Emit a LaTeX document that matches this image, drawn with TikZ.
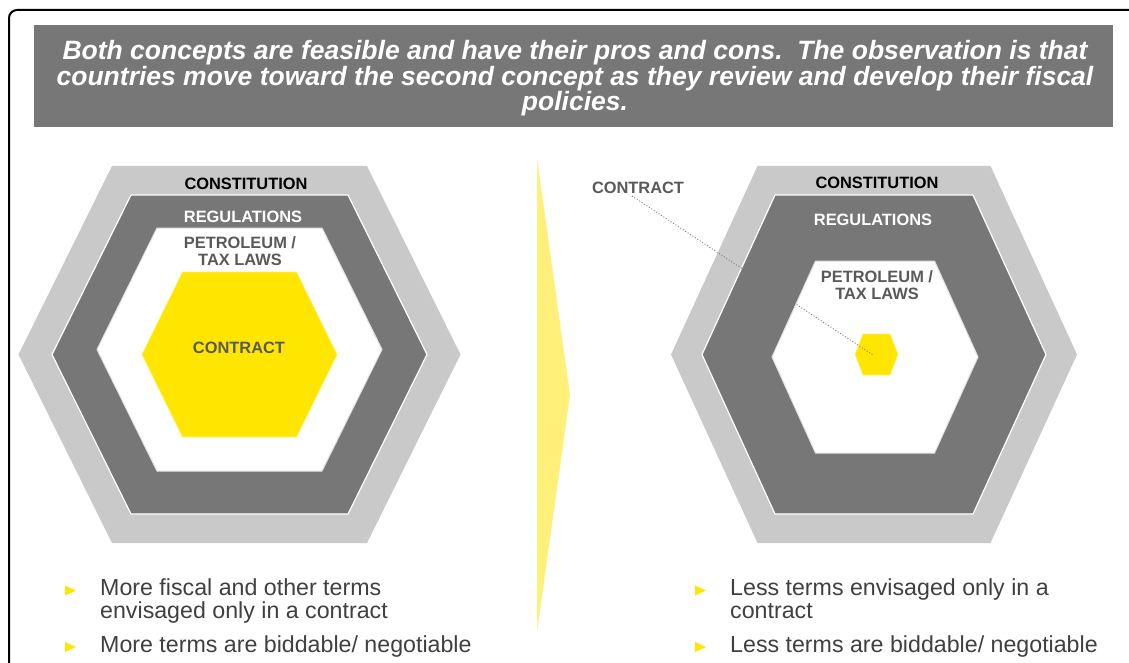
\documentclass[tikz,border=0pt]{standalone}
\usepackage{fontspec}
\setmainfont{Liberation Sans}
\definecolor{outerg}{HTML}{C9C9C9}
\definecolor{darkg}{HTML}{777777}
\definecolor{hdrg}{HTML}{777777}
\definecolor{ey}{HTML}{FFE600}
\definecolor{arrowy}{HTML}{FFF07A}
\definecolor{lblg}{HTML}{595959}
\definecolor{bodyg}{HTML}{404040}
\tikzset{
  hexlabel/.style={font=\fontsize{16.4}{17}\selectfont\bfseries, inner sep=0pt},
  hdrline/.style={font=\fontsize{26.5}{26}\selectfont\bfseries\itshape, text=white, anchor=base, inner sep=0pt},
  bodyline/.style={font=\fontsize{23.2}{23}\selectfont, text=bodyg, anchor=base west, inner sep=0pt},
  bullettri/.style={fill=ey, draw=none},
  ringout/.style={fill=outerg, draw=none},
  ringdark/.style={fill=darkg, draw=white, line width=1.2pt},
  corewhite/.style={fill=white, draw=black!12, line width=1pt},
  coreyellow/.style={fill=ey, draw=ey!60!white, line width=0.6pt},
}
% hexagon: centre (#1,#2), half top edge #3, half width #4, half height #5
\newcommand{\hexagonpath}[5]{(#1-#3,#2-#5) -- (#1+#3,#2-#5) -- (#1+#4,#2) -- (#1+#3,#2+#5) -- (#1-#3,#2+#5) -- (#1-#4,#2) -- cycle}
\begin{document}
\begin{tikzpicture}[x=1pt,y=-1pt]
\useasboundingbox (0,0) rectangle (1129,663);
\clip (0,0) rectangle (1129,663);
\fill[white] (0,0) rectangle (1129,663);

% outer frame
\draw[line width=2pt, rounded corners=8pt] (9,690) -- (9,10) -- (1150,10);

% headline banner
\fill[hdrg] (34,25) rectangle (1113,127);
\node[hdrline] (h1) at (575,59.5) {Both concepts are feasible and have their pros and cons.\ \ The observation is that};
\node[hdrline] (h2) at (575,85.5) {countries move toward the second concept as they review and develop their fiscal};
\node[hdrline] (h3) at (575,111) {policies.};

% first concept
\fill[ringout] \hexagonpath{239.5}{354.5}{127.5}{221}{188.5};
\filldraw[ringdark] \hexagonpath{239.5}{354.5}{108.5}{187.5}{159.5};
\filldraw[corewhite] \hexagonpath{239.5}{349.5}{82.5}{142.5}{121.5};
\filldraw[coreyellow] \hexagonpath{239.5}{354.5}{57}{97.5}{82.5};
\node[hexlabel, text=black] (lcon) at (246,184) {CONSTITUTION};
\node[hexlabel, text=white] (lreg) at (243,217) {REGULATIONS};
\node[hexlabel, text=lblg] (lpet) at (240,243) {PETROLEUM /};
\node[hexlabel, text=lblg] (ltax) at (240,260) {TAX LAWS};
\node[hexlabel, text=lblg] (lctr) at (239,348) {CONTRACT};

% transition chevron
\fill[arrowy] (537,158) -- (570,395) -- (537,632) -- cycle;

% second concept
\fill[ringout] \hexagonpath{874}{354.5}{116.5}{203}{188.5};
\filldraw[ringdark] \hexagonpath{874}{354.5}{99}{172}{159.5};
\filldraw[corewhite] \hexagonpath{875}{357}{59.5}{103}{96};
\filldraw[coreyellow] \hexagonpath{876.5}{354.5}{13.5}{21.5}{20.5};
\coordinate (rcore) at (873,355);
\node[hexlabel, text=black] (rcon) at (877,183) {CONSTITUTION};
\node[hexlabel, text=white] (rreg) at (873,220) {REGULATIONS};
\node[hexlabel, text=lblg] (rpet) at (877,277) {PETROLEUM /};
\node[hexlabel, text=lblg] (rtax) at (877,294) {TAX LAWS};
\node[hexlabel, text=lblg] (rctr) at (638,188) {CONTRACT};
\draw[lblg!80, dotted, line width=0.9pt] (rctr.south) ++(-6,2) -- (rcore);

% bullet points
\fill[bullettri] (65,585.5) -- (76,590.5) -- (65,595.5) -- cycle;
\fill[bullettri] (65,642) -- (76,647) -- (65,652) -- cycle;
\node[bodyline] (lb1a) at (100,595) {More fiscal and other terms};
\node[bodyline] (lb1b) at (100,618) {envisaged only in a contract};
\node[bodyline] (lb2) at (100,652) {More terms are biddable/ negotiable};

\fill[bullettri] (695,585.5) -- (706,590.5) -- (695,595.5) -- cycle;
\fill[bullettri] (695,642) -- (706,647) -- (695,652) -- cycle;
\node[bodyline] (rb1a) at (730,595) {Less terms envisaged only in a};
\node[bodyline] (rb1b) at (730,618) {contract};
\node[bodyline] (rb2) at (730,652) {Less terms are biddable/ negotiable};
\end{tikzpicture}
\end{document}
